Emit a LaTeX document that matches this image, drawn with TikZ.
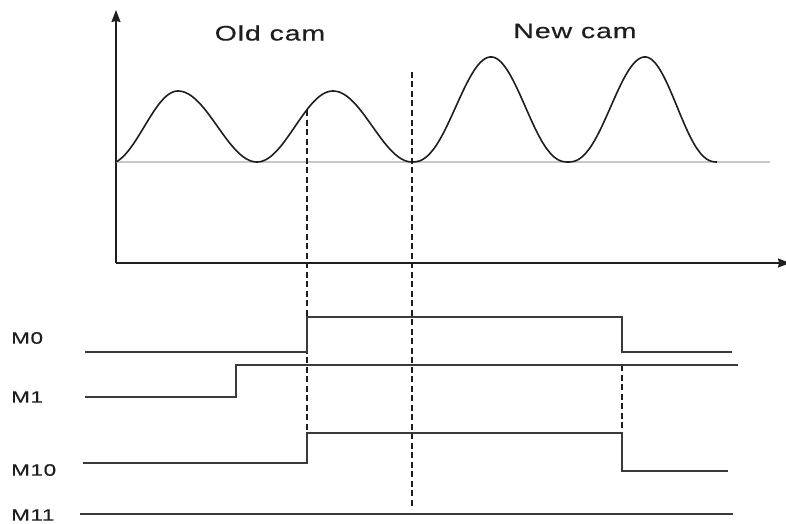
\documentclass[tikz,border=0pt]{standalone}
\usepackage{fontspec}
\setmainfont{Liberation Sans}
\newfontfamily\widefont[FakeStretch=1.36,LetterSpace=4,FakeBold=0.4]{Liberation Sans}
\usetikzlibrary{arrows.meta}
\definecolor{ink}{HTML}{1E1E1E}
\definecolor{sig}{HTML}{3A3A3A}
\definecolor{base}{HTML}{C8C8C8}
\tikzset{
  axisline/.style={ink, line width=1.4pt},
  camcurve/.style={ink, line width=1.6pt},
  baseline/.style={base, line width=1.1pt},
  signal/.style={sig, line width=1.9pt},
  guide/.style={ink, line width=1.4pt, dash pattern=on 6pt off 3.5pt},
  camlabel/.style={font=\widefont\fontsize{21}{24}\selectfont, text=ink, inner sep=0pt},
  siglabel/.style={font=\widefont\fontsize{16.5}{19}\selectfont, text=ink, inner sep=0pt, anchor=west},
  axhead/.style={-{Stealth[length=12pt,width=9pt,inset=1pt]}}
}
\begin{document}
\begin{tikzpicture}[x=1pt,y=-1pt]
\useasboundingbox (0,0) rectangle (786,524);
% axes
\coordinate (O) at (116,263);
\coordinate (Ytop) at (116,10);
\coordinate (Xend) at (790,263);
\draw[axisline,axhead] (O) -- (Ytop);
\draw[axisline,axhead] (O) -- (Xend);
% baseline
\draw[baseline] (116,162) -- (770,162);
% old cam
\draw[camcurve]
  plot[domain=116:178,samples=40] (\x,{162-71*(0.3*sin(90*(\x-116)/62)+0.7*(1-cos(180*(\x-116)/62))/2)})
  -- plot[domain=178:257,samples=40] (\x,{162-71*(1+cos(180*(\x-178)/79))/2})
  -- plot[domain=257:333,samples=40] (\x,{162-71*(1-cos(180*(\x-257)/76))/2})
  -- plot[domain=333:412,samples=40] (\x,{162-71*(1+cos(180*(\x-333)/79))/2});
% new cam
\draw[camcurve]
  plot[domain=412:491,samples=50] (\x,{162-105*exp(1.2*ln(0.0005+(1-cos(180*(\x-412)/79))/2))})
  -- plot[domain=491:568,samples=50] (\x,{162-105*exp(1.2*ln(0.0005+(1+cos(180*(\x-491)/77))/2))})
  -- plot[domain=568:645,samples=50] (\x,{162-105*exp(1.2*ln(0.0005+(1-cos(180*(\x-568)/77))/2))})
  -- plot[domain=645:717,samples=50] (\x,{162-105*exp(1.2*ln(0.0005+(1+cos(180*(\x-645)/72))/2))});
% labels
\node[camlabel] (old) at (270,33) {Old cam};
\node[camlabel] (new) at (575,31) {New cam};
% guide lines
\coordinate (g1a) at (307,110); \coordinate (g1b) at (307,433);
\coordinate (g2a) at (412,72);  \coordinate (g2b) at (412,509);
\coordinate (g3a) at (622,365); \coordinate (g3b) at (622,433);
\draw[guide] (g1a) -- (g1b);
\draw[guide] (g2a) -- (g2b);
\draw[guide] (g3a) -- (g3b);
% signals
\draw[signal] (85,352) -- (307,352) -- (307,317) -- (622,317) -- (622,352) -- (732,352);
\draw[signal] (85,397) -- (236,397) -- (236,365) -- (738,365);
\draw[signal] (83,463) -- (307,463) -- (307,433) -- (622,433) -- (622,471) -- (728,471);
\draw[signal] (80,514) -- (733,514);
% signal labels
\node[siglabel] (m0) at (11,338) {M0};
\node[siglabel] (m1) at (11,397) {M1};
\node[siglabel] (m10) at (11,470) {M10};
\node[siglabel] (m11) at (11,515) {M11};
\end{tikzpicture}
\end{document}
